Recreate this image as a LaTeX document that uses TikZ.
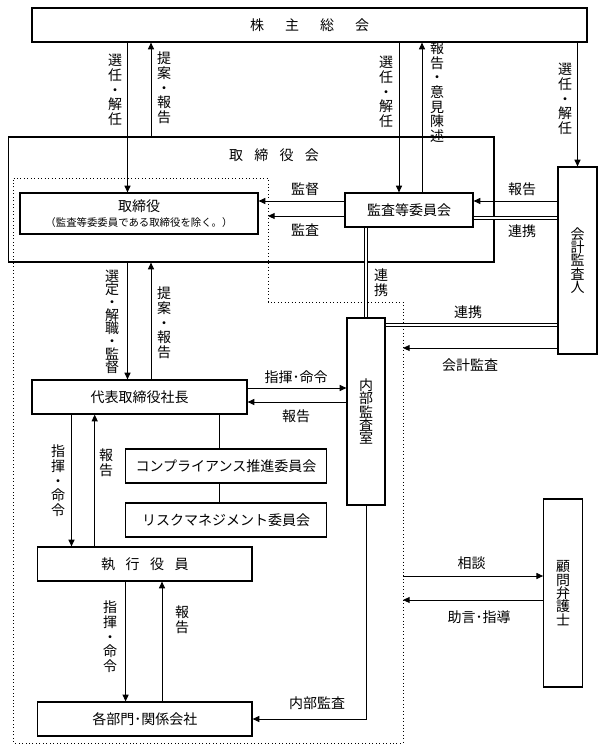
\documentclass[tikz,border=0pt]{standalone}
\usepackage{fontspec}
\setmainfont{Noto Sans CJK JP}
\usetikzlibrary{arrows.meta}

\begin{document}
\begin{tikzpicture}[x=0.75pt,y=-0.75pt,font=\fontsize{10.5}{10}\selectfont]
\tikzset{
  box/.style={draw,line width=0.9pt,inner sep=0pt,align=center,fill=white},
  lbl/.style={inner sep=0pt,align=center,font=\fontsize{10.5}{11}\selectfont},
  arr/.style={line width=0.7pt,-{Triangle[length=5pt,width=4.5pt]}},
  ln/.style={line width=0.7pt},
  dbl/.style={double,double distance=1.6pt,line width=0.55pt},
}
\useasboundingbox (0,0) rectangle (603,750);
% dotted area
\draw[dotted,line width=0.6pt] (13.5,178) -- (268,178) -- (268,302) -- (403,302) -- (403,743) -- (13.5,743) -- cycle;
\coordinate (dotin) at (268,178);
\coordinate (dotout) at (403,302);
% columns and rows
\coordinate (c1) at (127.5,0);
\coordinate (c2) at (151,0);
\coordinate (c3) at (399,0);
\coordinate (c4) at (422,0);
\coordinate (c5) at (71.5,0);
\coordinate (c6) at (94.7,0);
\coordinate (c7) at (219.5,0);
\coordinate (c8) at (125.6,0);
\coordinate (c9) at (162,0);
\coordinate (r1) at (0,201);
\coordinate (r2) at (0,216);
\coordinate (r3) at (0,218);
\coordinate (r4) at (0,325);
\coordinate (r5) at (0,348);
\coordinate (r6) at (0,388);
\coordinate (r7) at (0,402);
\coordinate (r8) at (0,576);
\coordinate (r9) at (0,600);
% boxes
\node[box,minimum width=416.25pt,minimum height=25.5pt] (soukai) at (309.5,25) {株\hspace{1.5em}主\hspace{1.5em}総\hspace{1.5em}会};
\node[draw,line width=0.9pt,minimum width=364.1pt,minimum height=93.75pt] (torikai) at (251.25,199.5) {};
\node[lbl] (torikaiT) at (274,155) {取\hspace{0.8em}締\hspace{0.8em}役\hspace{0.8em}会};
\node[box,minimum width=178.5pt,minimum height=30.75pt] (tori) at (139,213.5) {取締役\\[1pt]{\fontsize{7.8}{7.8}\selectfont （監査等委委員である取締役を除く。）}};
\node[box,minimum width=96pt,minimum height=25.5pt] (kansa) at (409,210) {監査等委員会};
\node[box,minimum width=29.25pt,minimum height=140.25pt] (kaikei) at (577.5,260.5) {会\\計\\監\\査\\人};
\node[box,minimum width=28.5pt,minimum height=140.25pt] (naibu) at (366,411.5) {内\\部\\監\\査\\室};
\node[box,minimum width=161.25pt,minimum height=25.5pt] (daihyo) at (139.5,397) {代表取締役社長};
\node[box,minimum width=150.75pt,minimum height=25.5pt] (comp) at (226,466) {コンプライアンス推進委員会};
\node[box,minimum width=150.75pt,minimum height=25.5pt] (risk) at (226,520) {リスクマネジメント委員会};
\node[box,minimum width=160.9pt,minimum height=25.5pt] (shikko) at (144.75,564) {執\hspace{0.75em}行\hspace{0.75em}役\hspace{0.75em}員};
\node[box,minimum width=160.9pt,minimum height=25.5pt] (kakubu) at (144.75,719) {各部門･関係会社};
\node[box,minimum width=28.9pt,minimum height=141pt] (komon) at (563,593) {顧\\問\\弁\\護\\士};
% connectors
\path[draw,arr] (soukai.south -| c1) -- (tori.north -| c1);
\path[draw,arr] (torikai.north -| c2) -- (soukai.south -| c2);
\path[draw,arr] (soukai.south -| c3) -- (kansa.north -| c3);
\path[draw,arr] (kansa.north -| c4) -- (soukai.south -| c4);
\path[draw,arr] (soukai.south -| kaikei.north) -- (kaikei.north);
\path[draw,arr] (kansa.west |- r1) -- (tori.east |- r1);
\path[draw,arr] (kansa.west |- r2) -- (dotin |- r2);
\path[draw,arr] (kaikei.west |- r1) -- (kansa.east |- r1);
\path[draw,dbl] (kansa.east |- r3) -- (kaikei.west |- r3);
\path[draw,dbl] (kansa.south -| naibu.north) -- (naibu.north);
\path[draw,dbl] (naibu.east |- r4) -- (kaikei.west |- r4);
\path[draw,arr] (kaikei.west |- r5) -- (dotout |- r5);
\path[draw,arr] (torikai.south -| c1) -- (daihyo.north -| c1);
\path[draw,arr] (daihyo.north -| c2) -- (torikai.south -| c2);
\path[draw,arr] (daihyo.east |- r6) -- (naibu.west |- r6);
\path[draw,arr] (naibu.west |- r7) -- (daihyo.east |- r7);
\path[draw,ln] (daihyo.south -| c7) -- (comp.north -| c7);
\path[draw,ln] (comp.south -| c7) -- (risk.north -| c7);
\path[draw,arr] (daihyo.south -| c5) -- (shikko.north -| c5);
\path[draw,arr] (shikko.north -| c6) -- (daihyo.south -| c6);
\path[draw,arr] (shikko.south -| c8) -- (kakubu.north -| c8);
\path[draw,arr] (kakubu.north -| c9) -- (shikko.south -| c9);
\path[draw,arr] (naibu.south) -- (naibu.south |- kakubu.east) -- (kakubu.east);
\path[draw,arr] (dotout |- r8) -- (komon.west |- r8);
\path[draw,arr] (komon.west |- r9) -- (dotout |- r9);
% labels
\node[lbl] (l1) at (115,90) {選\\任\\・\\解\\任};
\node[lbl] (l2) at (164,88) {提\\案\\・\\報\\告};
\node[lbl] (l3) at (386,92) {選\\任\\・\\解\\任};
\node[lbl] (l4) at (437,92) {報\\告\\・\\意\\見\\陳\\述};
\node[lbl] (l5) at (565,99) {選\\任\\・\\解\\任};
\node[lbl] (l6) at (305,189) {監督};
\node[lbl] (l7) at (305,230) {監査};
\node[lbl] (l8) at (522,189) {報告};
\node[lbl] (l9) at (522,231) {連携};
\node[lbl] (l10) at (381,283) {連\\携};
\node[lbl] (l11) at (468,312) {連携};
\node[lbl] (l12) at (470,365) {会計監査};
\node[lbl,font=\fontsize{10.5}{9.8}\selectfont] (l13) at (112,322) {選\\定\\・\\解\\職\\・\\監\\督};
\node[lbl] (l14) at (164,323) {提\\案\\・\\報\\告};
\node[lbl] (l15) at (296,377) {指揮･命令};
\node[lbl] (l16) at (296,416) {報告};
\node[lbl] (l17) at (58,481) {指\\揮\\・\\命\\令};
\node[lbl] (l18) at (106,463) {報\\告};
\node[lbl] (l19) at (110,637) {指\\揮\\・\\命\\令};
\node[lbl] (l20) at (182,620) {報\\告};
\node[lbl] (l21) at (317,703) {内部監査};
\node[lbl] (l22) at (471.5,563) {相談};
\node[lbl] (l23) at (479,617) {助言･指導};
\end{tikzpicture}
\end{document}
